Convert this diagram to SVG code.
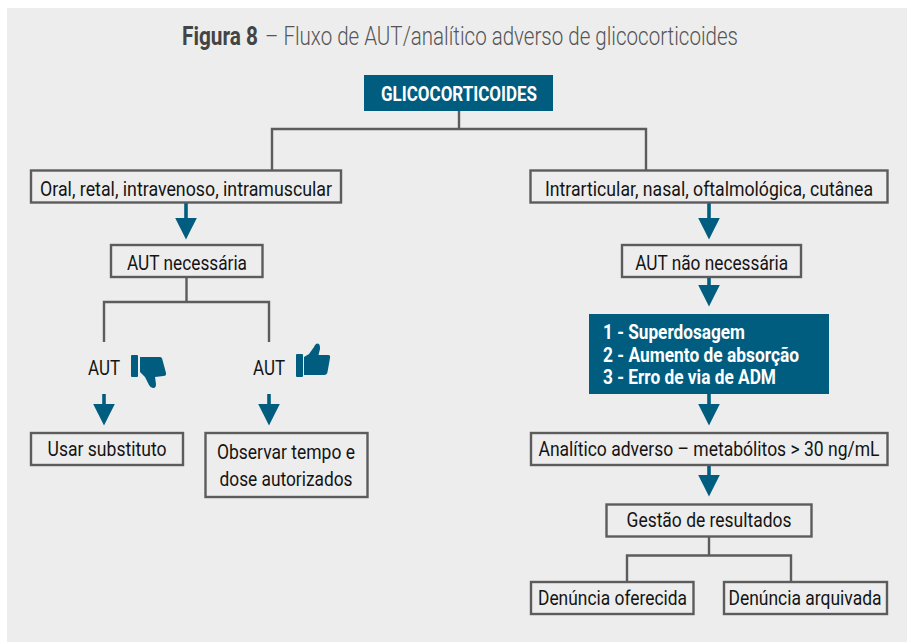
<svg xmlns="http://www.w3.org/2000/svg" width="907" height="642" viewBox="0 0 907 642">
<style>
text{font-family:"Roboto","Liberation Sans",sans-serif;font-size:20.500px;fill:#141414;text-anchor:middle}
.b{fill:#ededed;stroke:#5c5c5c;stroke-width:2.400}
.l{fill:none;stroke:#5c5c5c;stroke-width:2.400}
.a{fill:#005d7f}
.s{fill:none;stroke:#005d7f;stroke-width:3.600}
.w{fill:#fff;font-weight:700}
.st{text-anchor:start}
</style>
<defs>
<path id="head" class="a" d="M-10.800 0H10.800L0 21.500Z"/>
</defs>
<rect x="0" y="0" width="907" height="642" fill="#fff"/>
<rect x="7" y="8" width="900" height="634" fill="#ededed"/>
<text class="st" x="182" y="45" style="font-size:25px;fill:#444;font-weight:700" textLength="76" lengthAdjust="spacingAndGlyphs">Figura 8</text>
<text class="st" x="265" y="45" style="font-size:25px;fill:#555;font-weight:300" textLength="473" lengthAdjust="spacingAndGlyphs">– Fluxo de AUT/analítico adverso de glicocorticoides</text>
<g id="connectors">
<path class="l" d="M459 110V129M272 170V129H646V170"/>
<path class="l" d="M186.500 277V302M104 342V302H269V342"/>
<path class="l" d="M709 537V555.500M627 582V555.500H791V582"/>
<path class="s" d="M186 203V220M709 203V220M709 277V287M709 394V406M709 465V477M104 394V406M269 394V406"/>
<use href="#head" x="186" y="218"/>
<use href="#head" x="709" y="218"/>
<use href="#head" x="709" y="285"/>
<use href="#head" x="709" y="404"/>
<use href="#head" x="709" y="475"/>
<use href="#head" x="104" y="404"/>
<use href="#head" x="269" y="404"/>
</g>
<g id="n-glico"><rect x="364" y="75" width="189" height="36" fill="#005d7f"/><text x="459" y="101" class="w" style="fill:#fff" textLength="156" lengthAdjust="spacingAndGlyphs">GLICOCORTICOIDES</text></g>
<g id="n-oral"><rect class="b" x="31" y="170.500" width="310" height="32"/><text x="186" y="196" textLength="292" lengthAdjust="spacingAndGlyphs">Oral, retal, intravenoso, intramuscular</text></g>
<g id="n-intra"><rect class="b" x="530.500" y="170.500" width="357" height="32"/><text transform="translate(709 196) scale(.9 1)" textLength="364.500" lengthAdjust="spacingAndGlyphs">Intrarticular, nasal, oftalmológica, cutânea</text></g>
<g id="n-autnec"><rect class="b" x="111" y="245" width="151.500" height="32"/><text x="187" y="270" textLength="120" lengthAdjust="spacingAndGlyphs">AUT necessária</text></g>
<g id="n-autnao"><rect class="b" x="622" y="245" width="179" height="32"/><text x="711.700" y="270" textLength="153" lengthAdjust="spacingAndGlyphs">AUT não necessária</text></g>
<g id="n-causes"><rect x="589" y="314" width="240" height="80" fill="#005d7f"/>
<text x="603" y="339" class="w st" style="fill:#fff" textLength="142" lengthAdjust="spacingAndGlyphs">1 - Superdosagem</text>
<text x="603" y="362" class="w st" style="fill:#fff" textLength="196" lengthAdjust="spacingAndGlyphs">2 - Aumento de absorção</text>
<text x="603" y="384" class="w st" style="fill:#fff" textLength="173" lengthAdjust="spacingAndGlyphs">3 - Erro de via de ADM</text></g>
<g id="n-autno"><text x="104" y="375" textLength="32" lengthAdjust="spacingAndGlyphs">AUT</text>
<rect class="a" x="131" y="355" width="7" height="22" rx="1"/><path class="a" d="M140 357H160Q162 357 162.500 360L166 373Q166.500 376 163.500 376L155 377L156 384Q156 388.500 153 388Q150.500 388 149 385L145 377L140 372Z"/></g>
<g id="n-autyes"><text x="269" y="375" textLength="32" lengthAdjust="spacingAndGlyphs">AUT</text>
<rect class="a" x="296" y="354" width="7" height="23" rx="1"/><path class="a" d="M304 357L309 354L314 347Q316 342 319 344Q320.500 346 320 349L318.500 355H328.500Q330.500 355 330 358L327.500 372Q327 375 324 375H304Z"/></g>
<g id="n-sub"><rect class="b" x="31" y="433" width="152" height="32"/><text x="107" y="456" textLength="119" lengthAdjust="spacingAndGlyphs">Usar substituto</text></g>
<g id="n-obs"><rect class="b" x="205.500" y="433" width="162" height="64"/><text x="286" y="459" textLength="138" lengthAdjust="spacingAndGlyphs">Observar tempo e</text><text x="286" y="486" textLength="133" lengthAdjust="spacingAndGlyphs">dose autorizados</text></g>
<g id="n-ana"><rect class="b" x="531" y="433" width="356.500" height="32"/><text transform="translate(709 456) scale(.9 1)" textLength="379" lengthAdjust="spacingAndGlyphs">Analítico adverso – metabólitos &gt; 30 ng/mL</text></g>
<g id="n-gest"><rect class="b" x="606.500" y="504.500" width="205" height="32"/><text x="709" y="527" textLength="165" lengthAdjust="spacingAndGlyphs">Gestão de resultados</text></g>
<g id="n-den1"><rect class="b" x="531" y="582" width="162.500" height="32"/><text x="612.500" y="605" textLength="149" lengthAdjust="spacingAndGlyphs">Denúncia oferecida</text></g>
<g id="n-den2"><rect class="b" x="724" y="582" width="163" height="32"/><text x="805" y="605" textLength="153" lengthAdjust="spacingAndGlyphs">Denúncia arquivada</text></g>
</svg>
